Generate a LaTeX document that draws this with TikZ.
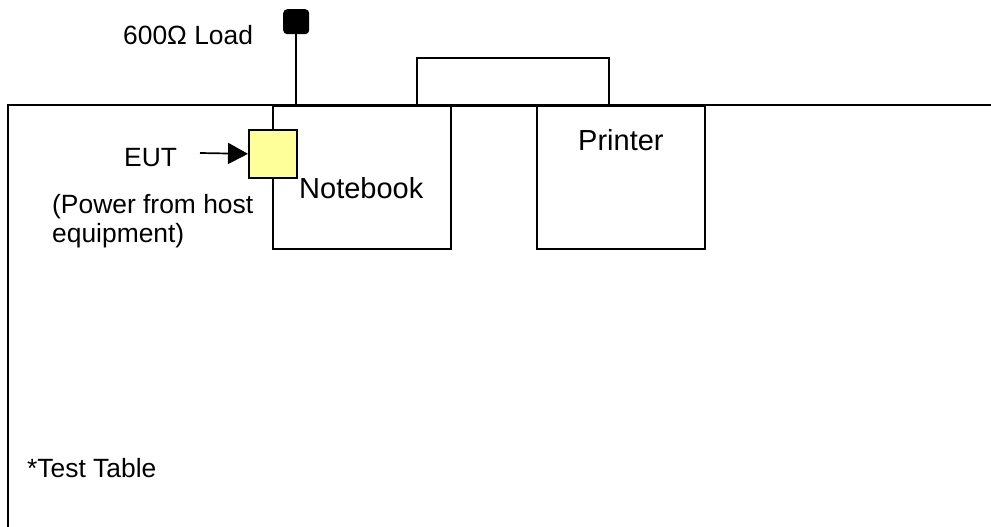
\documentclass[tikz,border=0pt]{standalone}
\usepackage{fontspec}
\setmainfont{Liberation Sans}
\usetikzlibrary{arrows.meta}
\definecolor{eutyellow}{HTML}{FFFF99}
\begin{document}
\begin{tikzpicture}[x=1pt,y=-1pt,
  line/.style={draw=black,line width=1.7pt},
  boxnode/.style={line,rectangle,inner sep=0pt,anchor=north west},
  lbl/.style={inner sep=0pt,anchor=base west,font=\fontsize{26.4}{30}\selectfont},
  biglbl/.style={inner sep=0pt,anchor=base west,font=\fontsize{29}{33}\selectfont}]
\useasboundingbox (0,0) rectangle (991,527);
% test table
\coordinate (tl) at (8,105);
\coordinate (tr) at (991,105);
\coordinate (bl) at (8,527);
\draw[line,line width=2pt] (bl) -- (tl) -- (tr);
% link box between notebook and printer
\node[boxnode,minimum width=192pt,minimum height=48pt] (link) at (416,57) {};
% notebook and printer
\node[boxnode,fill=white,minimum width=178pt,minimum height=143pt] (notebook) at (272,105) {};
\node[boxnode,fill=white,minimum width=168pt,minimum height=143pt] (printer) at (536,105) {};
\draw[line,line width=2pt] (tl) -- (tr);
% EUT
\node[boxnode,fill=eutyellow,minimum width=48pt,minimum height=48pt] (eut) at (248,129) {};
% load
\node[fill=black,rounded corners=4pt,inner sep=0pt,minimum width=26pt,minimum height=25pt,anchor=north west] (load) at (283,9) {};
\draw[line] (load.south) -- (load.south |- notebook.north);
% arrow
\coordinate (arrstart) at (200,153);
\draw[line,-{Triangle[length=20pt,width=21pt]}] (arrstart) -- (eut.west);
% labels
\node[lbl] (loadlbl) at (123,45) {600Ω Load};
\node[lbl] (eutlbl) at (124,166) {EUT};
\node[biglbl] (nblbl) at (299,198) {Notebook};
\node[biglbl] (prlbl) at (578,150) {Printer};
\node[lbl] (pwr1) at (52,213) {(Power from host};
\node[lbl] (pwr2) at (52,242) {equipment)};
\node[lbl] (tbl) at (27,477) {*Test Table};
\end{tikzpicture}
\end{document}
